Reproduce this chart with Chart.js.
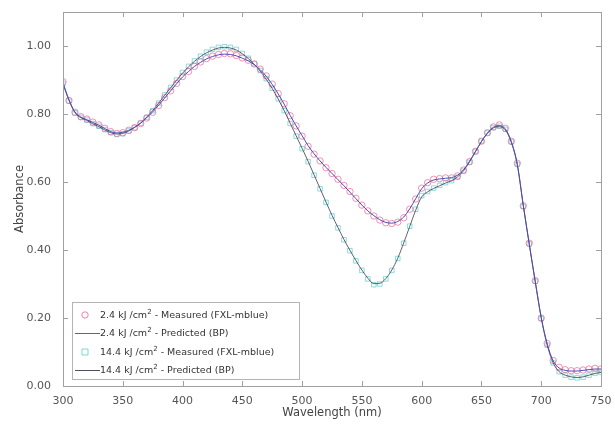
<!DOCTYPE html>
<html>
<head>
<meta charset="utf-8">
<script src="https://cdn.jsdelivr.net/npm/chart.js@4/dist/chart.umd.min.js"></script>
<style>
    html, body { margin: 0; padding: 0; background: #fff; }
    #wrap { position: relative; width: 615px; height: 426px; }
    #legend {
        position: absolute; left: 72px; top: 302px; width: 226px; height: 76px;
        border: 1px solid #b4b4b4; background: #fff;
        font-family: "DejaVu Sans", sans-serif; font-size: 9.5px; color: #333;
    }
    #legend .row { position: absolute; left: 0; height: 18px; line-height: 18px; }
    #legend .row span.txt { position: absolute; left: 27px; white-space: nowrap; }
    #legend sup { font-size: 7px; vertical-align: 4px; line-height: 0; }
    #legend canvas { position: absolute; left: 2px; top: 0; }
</style>
</head>
<body>
<div id="wrap">
    <canvas id="chart" width="615" height="426"></canvas>
    <div id="legend"></div>
</div>
<script>
    // Wavelength grid (nm)
    var wavelengths = [
        300, 305, 310, 315, 320, 325, 330, 335, 340, 345,
        350, 355, 360, 365, 370, 375, 380, 385, 390, 395,
        400, 405, 410, 415, 420, 425, 430, 435, 440, 445,
        450, 455, 460, 465, 470, 475, 480, 485, 490, 495,
        500, 505, 510, 515, 520, 525, 530, 535, 540, 545,
        550, 555, 560, 565, 570, 575, 580, 585, 590, 595,
        600, 605, 610, 615, 620, 625, 630, 635, 640, 645,
        650, 655, 660, 665, 670, 675, 680, 685, 690, 695,
        700, 705, 710, 715, 720, 725, 730, 735, 740, 745, 750
    ];

    // 2.4 kJ/cm2 - measured
    var measured24 = [
        0.895, 0.840, 0.805, 0.792, 0.785, 0.776, 0.768, 0.758, 0.748, 0.743,
        0.745, 0.752, 0.760, 0.772, 0.788, 0.805, 0.825, 0.848, 0.868, 0.890,
        0.910, 0.925, 0.940, 0.953, 0.963, 0.970, 0.975, 0.978, 0.977, 0.972,
        0.965, 0.958, 0.947, 0.932, 0.912, 0.888, 0.860, 0.830, 0.795, 0.765,
        0.735, 0.705, 0.682, 0.662, 0.642, 0.625, 0.608, 0.590, 0.572, 0.552,
        0.532, 0.515, 0.500, 0.488, 0.480, 0.478, 0.482, 0.495, 0.520, 0.550,
        0.582, 0.598, 0.608, 0.610, 0.612, 0.612, 0.618, 0.635, 0.660, 0.690,
        0.720, 0.745, 0.762, 0.768, 0.758, 0.720, 0.655, 0.530, 0.420, 0.310,
        0.200, 0.125, 0.075, 0.055, 0.048, 0.045, 0.045, 0.047, 0.050, 0.052, 0.050
    ];

    // 2.4 kJ/cm2 - predicted (BP)
    var predicted24 = [
        0.892, 0.842, 0.806, 0.791, 0.783, 0.775, 0.767, 0.757, 0.748, 0.744,
        0.746, 0.752, 0.761, 0.773, 0.789, 0.806, 0.826, 0.847, 0.868, 0.889,
        0.909, 0.925, 0.940, 0.952, 0.962, 0.969, 0.974, 0.976, 0.975, 0.971,
        0.964, 0.956, 0.945, 0.930, 0.911, 0.887, 0.859, 0.829, 0.796, 0.765,
        0.736, 0.707, 0.683, 0.662, 0.643, 0.625, 0.607, 0.589, 0.570, 0.551,
        0.532, 0.515, 0.501, 0.489, 0.481, 0.479, 0.484, 0.497, 0.521, 0.551,
        0.580, 0.597, 0.606, 0.609, 0.611, 0.613, 0.620, 0.636, 0.661, 0.690,
        0.719, 0.744, 0.761, 0.766, 0.756, 0.719, 0.652, 0.532, 0.418, 0.308,
        0.202, 0.124, 0.074, 0.053, 0.046, 0.044, 0.044, 0.046, 0.048, 0.050, 0.050
    ];

    // 14.4 kJ/cm2 - measured
    var measured144 = [
        0.890, 0.838, 0.803, 0.790, 0.782, 0.772, 0.764, 0.754, 0.745, 0.740,
        0.742, 0.750, 0.760, 0.773, 0.790, 0.810, 0.832, 0.856, 0.878, 0.900,
        0.922, 0.940, 0.956, 0.970, 0.982, 0.990, 0.996, 0.998, 0.996, 0.990,
        0.978, 0.964, 0.948, 0.928, 0.904, 0.876, 0.845, 0.810, 0.772, 0.735,
        0.698, 0.660, 0.620, 0.580, 0.540, 0.500, 0.465, 0.430, 0.398, 0.368,
        0.340, 0.315, 0.298, 0.300, 0.315, 0.340, 0.375, 0.420, 0.470, 0.520,
        0.560, 0.572, 0.582, 0.590, 0.598, 0.604, 0.614, 0.632, 0.658, 0.690,
        0.720, 0.744, 0.760, 0.764, 0.755, 0.718, 0.652, 0.528, 0.418, 0.308,
        0.198, 0.120, 0.068, 0.042, 0.032, 0.026, 0.024, 0.026, 0.032, 0.038, 0.040
    ];

    // 14.4 kJ/cm2 - predicted (BP)
    var predicted144 = [
        0.888, 0.840, 0.804, 0.789, 0.781, 0.771, 0.763, 0.753, 0.745, 0.741,
        0.743, 0.750, 0.761, 0.774, 0.791, 0.810, 0.832, 0.855, 0.877, 0.899,
        0.920, 0.939, 0.955, 0.969, 0.980, 0.988, 0.994, 0.996, 0.994, 0.988,
        0.977, 0.963, 0.946, 0.926, 0.902, 0.875, 0.844, 0.810, 0.773, 0.736,
        0.699, 0.661, 0.621, 0.581, 0.541, 0.502, 0.466, 0.431, 0.399, 0.369,
        0.341, 0.317, 0.301, 0.302, 0.316, 0.341, 0.376, 0.421, 0.469, 0.517,
        0.556, 0.571, 0.581, 0.589, 0.597, 0.604, 0.615, 0.633, 0.659, 0.689,
        0.719, 0.743, 0.759, 0.763, 0.753, 0.716, 0.650, 0.530, 0.416, 0.306,
        0.200, 0.120, 0.068, 0.042, 0.032, 0.027, 0.025, 0.027, 0.032, 0.037, 0.040
    ];

    var xTicks = [300, 350, 400, 450, 500, 550, 600, 650, 700, 750];
    var yTicks = [0, 0.2, 0.4, 0.6, 0.8, 1.0];

    var legendLabels = [
        '2.4 kJ /cm<sup>2</sup> - Measured (FXL-mblue)',
        '2.4 kJ /cm<sup>2</sup> - Predicted (BP)',
        '14.4 kJ /cm<sup>2</sup> - Measured (FXL-mblue)',
        '14.4 kJ /cm<sup>2</sup> - Predicted (BP)'
    ];

    var RED = 'rgba(235, 95, 140, 0.85)';
    var CYAN = 'rgba(90, 200, 205, 0.85)';
    var BLUE = '#4a4ab8';
    var DARK = '#3a3a4a';

    function toPoints(values) {
        return wavelengths.map(function(w, i) { return { x: w, y: values[i] }; });
    }

    // Box around the plot area plus MATLAB-style inward ticks on all four sides
    var boxTicks = {
        id: 'boxTicks',
        afterDatasetsDraw: function(chart) {
            var a = chart.chartArea;
            var ctx = chart.ctx;
            var xs = chart.scales.x, ys = chart.scales.y;
            ctx.save();
            ctx.strokeStyle = '#a0a0a0';
            ctx.lineWidth = 1;
            ctx.strokeRect(a.left + 0.5, a.top + 0.5, a.right - a.left, a.bottom - a.top);
            ctx.beginPath();
            xTicks.forEach(function(t) {
                var px = Math.round(xs.getPixelForValue(t)) + 0.5;
                ctx.moveTo(px, a.bottom); ctx.lineTo(px, a.bottom - 5);
                ctx.moveTo(px, a.top); ctx.lineTo(px, a.top + 5);
            });
            yTicks.forEach(function(t) {
                var py = Math.round(ys.getPixelForValue(t)) + 0.5;
                ctx.moveTo(a.left, py); ctx.lineTo(a.left + 5, py);
                ctx.moveTo(a.right, py); ctx.lineTo(a.right - 5, py);
            });
            ctx.stroke();
            ctx.restore();
        }
    };

    var chart = new Chart(document.getElementById('chart').getContext('2d'), {
        type: 'line',
        data: {
            datasets: [
                {
                    label: '2.4 kJ /cm2 - Predicted (BP)',
                    data: toPoints(predicted24),
                    borderColor: BLUE,
                    borderWidth: 1,
                    pointRadius: 0,
                    cubicInterpolationMode: 'monotone',
                    order: 1
                },
                {
                    label: '14.4 kJ /cm2 - Predicted (BP)',
                    data: toPoints(predicted144),
                    borderColor: DARK,
                    borderWidth: 0.8,
                    pointRadius: 0,
                    cubicInterpolationMode: 'monotone',
                    order: 2
                },
                {
                    label: '2.4 kJ /cm2 - Measured (FXL-mblue)',
                    data: toPoints(measured24),
                    showLine: false,
                    pointStyle: 'circle',
                    pointRadius: 3.2,
                    pointBorderWidth: 0.8,
                    pointBorderColor: RED,
                    pointBackgroundColor: 'rgba(0,0,0,0)',
                    order: 3
                },
                {
                    label: '14.4 kJ /cm2 - Measured (FXL-mblue)',
                    data: toPoints(measured144),
                    showLine: false,
                    pointStyle: 'rect',
                    pointRadius: 3.2,
                    pointBorderWidth: 0.8,
                    pointBorderColor: CYAN,
                    pointBackgroundColor: 'rgba(0,0,0,0)',
                    order: 4
                }
            ]
        },
        options: {
            responsive: false,
            animation: false,
            layout: { padding: { top: 12, right: 14, left: 0, bottom: 6 } },
            plugins: {
                legend: { display: false },
                tooltip: { enabled: false }
            },
            scales: {
                x: {
                    type: 'linear',
                    min: 300,
                    max: 750,
                    afterBuildTicks: function(scale) {
                        scale.ticks = xTicks.map(function(v) { return { value: v }; });
                    },
                    afterFit: function(scale) { scale.height = 34; },
                    grid: { display: false },
                    border: { display: false },
                    ticks: {
                        color: '#555',
                        padding: 1,
                        maxRotation: 0,
                        font: { family: 'DejaVu Sans', size: 11 }
                    },
                    title: {
                        display: true,
                        text: 'Wavelength (nm)',
                        color: '#444',
                        padding: { top: 0, bottom: 0 },
                        font: { family: 'DejaVu Sans', size: 11.5 }
                    }
                },
                y: {
                    min: 0,
                    max: 1.1,
                    afterBuildTicks: function(scale) {
                        scale.ticks = yTicks.map(function(v) { return { value: v }; });
                    },
                    afterFit: function(scale) { scale.width = 63; },
                    grid: { display: false },
                    border: { display: false },
                    ticks: {
                        color: '#555',
                        padding: 4,
                        font: { family: 'DejaVu Sans', size: 11 },
                        callback: function(v) { return Number(v).toFixed(2); }
                    },
                    title: {
                        display: true,
                        text: 'Absorbance',
                        color: '#444',
                        padding: { top: 13, bottom: 0 },
                        font: { family: 'DejaVu Sans', size: 11.5 }
                    }
                }
            }
        },
        plugins: [boxTicks]
    });

    // Legend box in the lower-left corner of the plot
    function buildLegend() {
        var box = document.getElementById('legend');
        var kinds = ['circle', 'line', 'rect', 'line'];
        var colors = [RED, BLUE, CYAN, DARK];
        legendLabels.forEach(function(label, i) {
            var row = document.createElement('div');
            row.className = 'row';
            row.style.top = (3 + i * 18.3) + 'px';
            row.style.width = '224px';

            var c = document.createElement('canvas');
            c.width = 26; c.height = 18;
            var g = c.getContext('2d');
            g.strokeStyle = colors[i];
            g.lineWidth = 0.9;
            g.beginPath();
            if (kinds[i] === 'circle') {
                g.arc(10, 9, 3.2, 0, Math.PI * 2);
            } else if (kinds[i] === 'rect') {
                g.rect(7, 6, 6, 6);
            } else {
                g.moveTo(0, 9.5); g.lineTo(25, 9.5);
            }
            g.stroke();
            row.appendChild(c);

            var t = document.createElement('span');
            t.className = 'txt';
            t.innerHTML = label;
            row.appendChild(t);
            box.appendChild(row);
        });
    }
    buildLegend();
</script>
</body>
</html>
